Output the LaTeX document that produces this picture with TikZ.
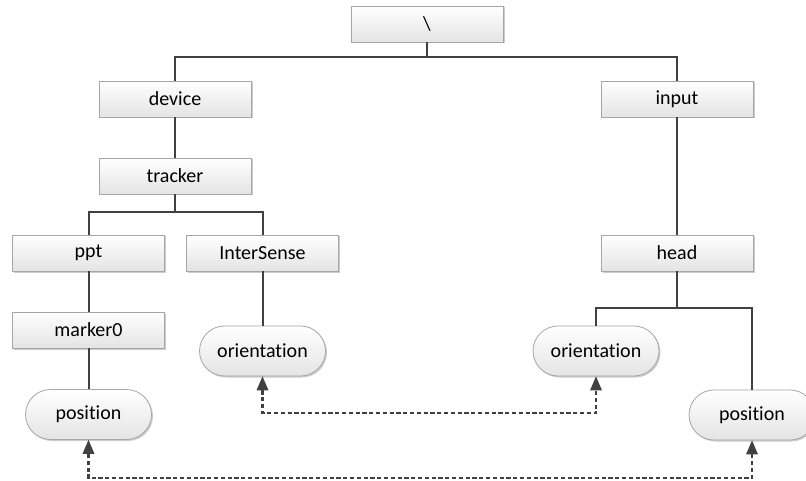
\documentclass[tikz,border=0pt]{standalone}
\usepackage{fontspec}
\setmainfont{Carlito}[Ligatures=NoCommon]
\usetikzlibrary{arrows.meta,shadows}
\definecolor{linec}{HTML}{404040}
\definecolor{borderc}{HTML}{A6A6A6}
\definecolor{fillbot}{HTML}{E4E4E4}
\tikzset{
  boxnode/.style={rectangle, draw=borderc, line width=0.8pt, top color=white, bottom color=fillbot,
    minimum width=152pt, minimum height=36pt, inner sep=0pt,
    font=\fontsize{20}{22}\selectfont,
    drop shadow={shadow xshift=1.5pt, shadow yshift=-1.5pt, opacity=0.2, fill=black}},
  pillnode/.style={boxnode, rounded corners=25pt, minimum width=126pt, minimum height=50pt},
  conn/.style={draw=linec, line width=2pt},
  dconn/.style={draw=linec, line width=2.4pt, dash pattern=on 4.2pt off 2.6pt,
    {Triangle[length=14pt,width=12pt,line width=0pt]}-{Triangle[length=14pt,width=12pt,line width=0pt]}}
}
\begin{document}
\begin{tikzpicture}[x=1pt,y=-1pt]
\useasboundingbox[fill=white] (0,0) rectangle (806,481);
% nodes
\node[boxnode] (root) at (427,24) {\textbackslash};
\node[boxnode] (device) at (175,99) {device};
\node[boxnode] (tracker) at (175,176) {tracker};
\node[boxnode] (input) at (677,99) {input};
\node[boxnode] (head) at (677,253) {head};
\node[boxnode] (ppt) at (88.5,253) {ppt};
\node[boxnode] (intersense) at (262.5,253) {InterSense};
\node[boxnode] (marker) at (88.5,330) {marker0};
\node[pillnode] (orientL) at (262.5,351) {orientation};
\node[pillnode] (posL) at (88.5,414.5) {position};
\node[pillnode] (orientR) at (596,351) {orientation};
\node[pillnode] (posR) at (752,415) {position};
% junctions
\coordinate (j1) at (427,57);
\coordinate (j2) at (175,212);
\coordinate (j3) at (677,308);
\coordinate (d1) at (430,413);
\coordinate (d2) at (420,478);
% tree connectors
\draw[conn] (root.south) -- (j1);
\draw[conn] (j1) -| (device.north);
\draw[conn] (j1) -| (input.north);
\draw[conn] (device.south) -- (tracker.north);
\draw[conn] (tracker.south) -- (j2);
\draw[conn] (j2) -| (ppt.north);
\draw[conn] (j2) -| (intersense.north);
\draw[conn] (ppt.south) -- (marker.north);
\draw[conn] (marker.south) -- (posL.north);
\draw[conn] (intersense.south) -- (orientL.north);
\draw[conn] (input.south) -- (head.north);
\draw[conn] (head.south) -- (j3);
\draw[conn] (j3) -| (orientR.north);
\draw[conn] (j3) -| (posR.north);
% dashed links
\draw[dconn] (orientL.south) |- (d1) -| (orientR.south);
\draw[dconn] (posL.south) |- (d2) -| (posR.south);
\end{tikzpicture}
\end{document}
